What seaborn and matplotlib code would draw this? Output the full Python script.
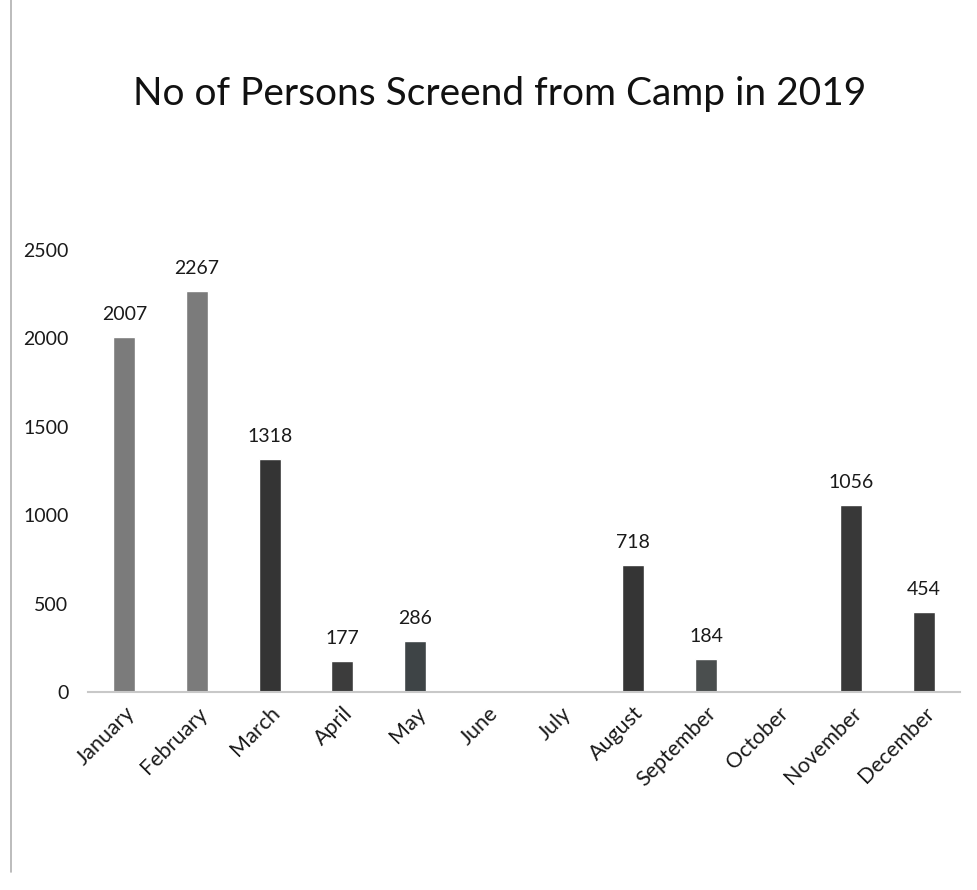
import matplotlib
matplotlib.use("Agg")
import matplotlib.pyplot as plt
from matplotlib.lines import Line2D
import seaborn as sns
import pandas as pd

# 月ごとの受診者数
months = ["January", "February", "March", "April", "May", "June",
          "July", "August", "September", "October", "November", "December"]
persons = [2007, 2267, 1318, 177, 286, 0, 0, 718, 184, 0, 1056, 454]
bar_colors = ["#7b7b7b", "#7b7b7b", "#343434", "#3c3c3c", "#3e4446", "#3e3e3e",
              "#3e3e3e", "#353535", "#4a4e4e", "#3e3e3e", "#383838", "#3a3a3a"]
y_ticks = [0, 500, 1000, 1500, 2000, 2500]

sns.set_style("white")
plt.rcParams['font.family'] = ['Lato', 'DejaVu Sans']

df = pd.DataFrame({"month": months, "persons": persons})

fig = plt.figure(figsize=(9.77, 8.9), dpi=100)
ax = fig.add_axes([0.09, 0.2225, 0.893, 0.4966])
sns.barplot(data=df, x="month", y="persons", hue="month", palette=bar_colors,
            legend=False, width=0.3, ax=ax, saturation=1)

for i, v in enumerate(persons):
    if v > 0:
        ax.text(i, v + 80, str(v), ha="center", va="bottom",
                fontsize=14, color="#1a1a1a", clip_on=False)

ax.set_ylim(0, 2500)
ax.set_yticks(y_ticks)
ax.set_yticklabels([str(t) for t in y_ticks], fontsize=14, color="#1a1a1a")
ax.tick_params(axis="y", length=0, pad=14)
ax.tick_params(axis="x", length=0, pad=8)
plt.setp(ax.get_xticklabels(), rotation=45, ha="right", rotation_mode="anchor",
         fontsize=15.5, color="#1a1a1a")
ax.set_xlabel("")
ax.set_ylabel("")
for s in ["top", "right", "left"]:
    ax.spines[s].set_visible(False)
ax.spines["bottom"].set_color("#c8c8c8")
ax.spines["bottom"].set_linewidth(1.5)

fig.suptitle("No of Persons Screend from Camp in 2019", fontsize=28,
             color="#111111", x=0.511, y=0.915)

# スキャン画像の左端の枠線
fig.add_artist(Line2D([0.011, 0.011], [0.02, 1.0], color="#b0b0b0", lw=1.2))

plt.savefig("out.png", dpi=100)
